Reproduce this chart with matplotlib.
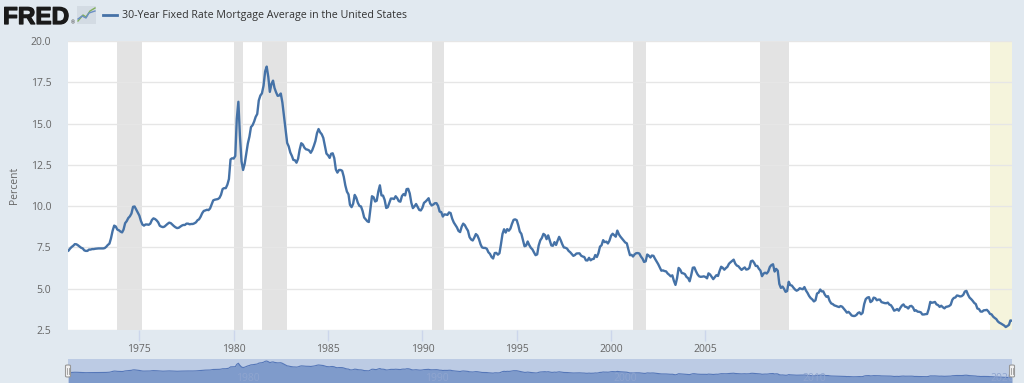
import numpy as np
import pandas as pd
import matplotlib
matplotlib.use("Agg")
import matplotlib.pyplot as plt
import matplotlib.patheffects as pe
from matplotlib.lines import Line2D
from matplotlib.patches import FancyBboxPatch

# ---------------- data ----------------
series_start = "1971-04-01"   # monthly averages from April 1971
rates_1970s = [7.31, 7.43, 7.53, 7.60, 7.70, 7.69, 7.63, 7.55, 7.48,
               7.44, 7.32, 7.29, 7.29, 7.37, 7.37, 7.40, 7.40, 7.42, 7.43, 7.44, 7.44,
               7.44, 7.44, 7.46, 7.54, 7.65, 7.73, 8.05, 8.50, 8.82, 8.77, 8.58, 8.54,
               8.46, 8.41, 8.58, 8.97, 9.09, 9.28, 9.38, 9.55, 9.96, 9.98, 9.79, 9.62,
               9.43, 9.10, 8.89, 8.82, 8.89, 8.89, 8.87, 8.94, 9.16, 9.26, 9.22, 9.14,
               9.02, 8.81, 8.76, 8.73, 8.76, 8.85, 8.93, 9.00, 8.97, 8.88, 8.79, 8.72,
               8.67, 8.69, 8.75, 8.82, 8.86, 8.86, 8.94, 8.94, 8.90, 8.92, 8.92, 8.96,
               9.02, 9.15, 9.20, 9.36, 9.57, 9.71, 9.74, 9.78, 9.76, 9.86, 10.11, 10.35,
               10.39, 10.41, 10.43, 10.50, 10.69, 11.04, 11.09, 11.09, 11.30, 11.64, 12.83, 12.90]
rates_1980s = [12.88, 13.04, 15.28, 16.32, 14.26, 12.71, 12.19, 12.56, 13.20, 13.79, 14.21, 14.79,
               14.90, 15.13, 15.40, 15.58, 16.40, 16.70, 16.83, 17.29, 18.16, 18.45, 17.83, 16.92,
               17.40, 17.60, 17.16, 16.89, 16.68, 16.70, 16.82, 16.27, 15.43, 14.61, 13.83, 13.62,
               13.25, 13.04, 12.80, 12.78, 12.63, 12.87, 13.42, 13.81, 13.73, 13.54, 13.44, 13.42,
               13.37, 13.23, 13.39, 13.65, 13.94, 14.42, 14.67, 14.47, 14.35, 14.13, 13.64, 13.18,
               13.08, 12.92, 13.17, 13.20, 12.91, 12.22, 12.03, 12.19, 12.19, 12.14, 11.78, 11.26,
               10.88, 10.71, 10.08, 9.94, 10.14, 10.68, 10.51, 10.20, 10.01, 9.98, 9.70, 9.31,
               9.20, 9.08, 9.04, 9.83, 10.60, 10.54, 10.28, 10.33, 10.89, 11.26, 10.65, 10.64,
               10.38, 9.89, 9.93, 10.20, 10.46, 10.46, 10.43, 10.60, 10.48, 10.30, 10.27, 10.61,
               10.73, 10.65, 11.03, 11.05, 10.77, 10.20, 9.88, 9.99, 10.13, 9.95, 9.77, 9.74]
rates_1990s = [9.90, 10.20, 10.27, 10.37, 10.48, 10.16, 10.04, 10.10, 10.18, 10.18, 10.01, 9.67,
               9.64, 9.37, 9.50, 9.49, 9.47, 9.62, 9.58, 9.24, 9.01, 8.86, 8.71, 8.50,
               8.43, 8.76, 8.94, 8.85, 8.67, 8.51, 8.13, 7.98, 7.92, 8.09, 8.31, 8.22,
               7.99, 7.68, 7.50, 7.47, 7.47, 7.42, 7.21, 7.11, 6.92, 6.83, 7.16, 7.17,
               7.06, 7.15, 7.68, 8.32, 8.60, 8.40, 8.61, 8.51, 8.64, 8.93, 9.17, 9.20,
               9.15, 8.83, 8.46, 8.32, 7.96, 7.57, 7.61, 7.86, 7.64, 7.48, 7.38, 7.20,
               7.03, 7.08, 7.62, 7.93, 8.07, 8.32, 8.25, 8.00, 8.23, 7.92, 7.62, 7.60,
               7.82, 7.65, 7.90, 8.14, 7.94, 7.69, 7.50, 7.48, 7.43, 7.29, 7.21, 7.10,
               6.99, 7.04, 7.13, 7.14, 7.14, 7.00, 6.95, 6.92, 6.72, 6.71, 6.87, 6.72,
               6.79, 6.81, 7.04, 6.92, 7.15, 7.55, 7.63, 7.94, 7.82, 7.85, 7.74, 7.91]
rates_2000s = [8.21, 8.33, 8.24, 8.15, 8.52, 8.29, 8.15, 8.03, 7.91, 7.80, 7.75, 7.38,
               7.03, 7.05, 6.95, 7.08, 7.15, 7.16, 7.13, 6.95, 6.82, 6.62, 6.66, 7.07,
               7.00, 6.89, 7.01, 6.99, 6.81, 6.65, 6.49, 6.29, 6.09, 6.11, 6.07, 6.05,
               5.92, 5.84, 5.75, 5.81, 5.48, 5.23, 5.63, 6.26, 6.15, 5.95, 5.93, 5.88,
               5.71, 5.64, 5.45, 5.83, 6.27, 6.29, 6.06, 5.87, 5.75, 5.72, 5.73, 5.75,
               5.71, 5.63, 5.93, 5.86, 5.72, 5.58, 5.70, 5.82, 5.77, 6.07, 6.33, 6.27,
               6.15, 6.25, 6.32, 6.51, 6.60, 6.68, 6.76, 6.52, 6.40, 6.36, 6.24, 6.14,
               6.22, 6.29, 6.16, 6.18, 6.26, 6.66, 6.70, 6.57, 6.38, 6.38, 6.21, 6.10,
               5.76, 5.92, 5.97, 5.92, 6.04, 6.32, 6.43, 6.48, 6.04, 6.20, 6.09, 5.29,
               5.05, 5.13, 5.00, 4.81, 4.86, 5.42, 5.22, 5.19, 5.06, 4.95, 4.88, 4.93]
rates_2010s = [5.03, 4.99, 4.97, 5.10, 4.89, 4.74, 4.56, 4.43, 4.35, 4.23, 4.30, 4.71,
               4.76, 4.95, 4.84, 4.84, 4.64, 4.51, 4.55, 4.27, 4.11, 4.07, 3.99, 3.96,
               3.92, 3.89, 3.95, 3.91, 3.80, 3.68, 3.55, 3.60, 3.50, 3.38, 3.35, 3.35,
               3.41, 3.53, 3.57, 3.45, 3.54, 4.07, 4.37, 4.46, 4.49, 4.19, 4.26, 4.46,
               4.43, 4.30, 4.34, 4.34, 4.19, 4.16, 4.13, 4.12, 4.16, 4.04, 4.00, 3.86,
               3.67, 3.71, 3.77, 3.67, 3.84, 3.98, 4.05, 3.91, 3.89, 3.80, 3.94, 3.96,
               3.87, 3.66, 3.69, 3.61, 3.60, 3.57, 3.44, 3.44, 3.46, 3.47, 3.77, 4.20,
               4.15, 4.17, 4.20, 4.05, 4.01, 3.90, 3.97, 3.88, 3.81, 3.90, 3.92, 3.95,
               4.03, 4.33, 4.44, 4.47, 4.59, 4.57, 4.53, 4.55, 4.63, 4.83, 4.87, 4.64,
               4.46, 4.37, 4.27, 4.14, 4.07, 3.80, 3.77, 3.62, 3.61, 3.69, 3.70, 3.72]
rates_2020s = [3.62, 3.47, 3.45, 3.31, 3.23, 3.16, 3.02, 2.94, 2.89, 2.83, 2.77, 2.68,
               2.74, 2.81, 3.08, 3.06]

recessions = [("1973-11-01", "1975-03-01"), ("1980-01-01", "1980-07-01"),
              ("1981-07-01", "1982-11-01"), ("1990-07-01", "1991-03-01"),
              ("2001-03-01", "2001-11-01"), ("2007-12-01", "2009-06-01")]
highlight_span = ("2020-02-01", "2021-05-01")
x_limits = ("1971-03-22", "2021-04-01")
y_ticks = [2.5, 5.0, 7.5, 10.0, 12.5, 15.0, 17.5, 20.0]
x_tick_years = [1975, 1980, 1985, 1990, 1995, 2000, 2005]
nav_label_years = [1980, 1990, 2000, 2010, 2020]
series_name = "30-Year Fixed Rate Mortgage Average in the United States"
y_label = "Percent"

rates = np.array(rates_1970s + rates_1980s + rates_1990s + rates_2000s + rates_2010s + rates_2020s)
dates = pd.date_range(series_start, periods=len(rates), freq="MS")

# ---------------- styling ----------------
plt.rcParams["font.family"] = ["Open Sans", "DejaVu Sans"]
BG = "#e1e9f0"
LINE = "#4572a7"
TXT = "#666666"

W, H = 1024, 383
fig = plt.figure(figsize=(W / 100, H / 100), dpi=100, facecolor=BG)

def fx(px):
    return px / W

def fy(py):
    return 1 - py / H

ax = fig.add_axes([fx(68), fy(330), fx(1012) - fx(68), fy(41) - fy(330)])
ax.set_facecolor("white")
for s in ax.spines.values():
    s.set_visible(False)

for a, b in recessions:
    ax.axvspan(pd.Timestamp(a), pd.Timestamp(b), color="#e3e3e3", lw=0, zorder=1)
ax.axvspan(pd.Timestamp(highlight_span[0]), pd.Timestamp(highlight_span[1]),
           color="#f5f4dc", lw=0, zorder=1)

ax.plot(dates, rates, color=LINE, lw=1.7, zorder=3, solid_joinstyle="round")

ax.set_ylim(2.5, 20.0)
ax.set_yticks(y_ticks)
ax.set_yticklabels([f"{v:.1f}" for v in y_ticks])
ax.set_xlim(pd.Timestamp(x_limits[0]), pd.Timestamp(x_limits[1]))
ax.set_xticks([pd.Timestamp(f"{y}-01-01") for y in x_tick_years])
ax.set_xticklabels([str(y) for y in x_tick_years])
ax.grid(axis="y", color="#e6e6e6", lw=1, zorder=0)
ax.tick_params(axis="y", length=0, pad=12, labelsize=7.5, labelcolor=TXT)
ax.tick_params(axis="x", length=8, width=1, color="#ccd6eb", pad=2,
               labelsize=7.5, labelcolor=TXT)

fig.text(fx(14), fy(185), y_label, rotation=90, ha="center", va="center",
         fontsize=7.5, color=TXT)

# ---------------- header ----------------
fig.text(fx(3), fy(24), "FRED", fontsize=17.5, fontweight="bold",
         family=["Liberation Sans", "DejaVu Sans"], color="#1a1a1a", va="baseline",
         path_effects=[pe.withStroke(linewidth=0.9, foreground="#1a1a1a")])
fig.text(fx(71), fy(24), "®", fontsize=3.5, color="#333333", va="baseline")
# small chart icon
fig.patches.append(FancyBboxPatch((fx(77), fy(24)), fx(19), fy(6) - fy(24),
                                  boxstyle="square,pad=0", transform=fig.transFigure,
                                  facecolor="#d3dbe3", edgecolor="none"))
fig.lines.append(Line2D([fx(78), fx(83), fx(86), fx(90), fx(95)],
                        [fy(21), fy(15), fy(17), fy(11), fy(8)],
                        transform=fig.transFigure, color="#7fae5a", lw=1))
fig.lines.append(Line2D([fx(78), fx(82), fx(86), fx(89), fx(95)],
                        [fy(19), fy(16), fy(18), fy(13), fy(11)],
                        transform=fig.transFigure, color="#6a8fc4", lw=1))
fig.lines.append(Line2D([fx(103), fx(117)], [fy(15), fy(15)],
                        transform=fig.transFigure, color=LINE, lw=2))
fig.text(fx(122), fy(15.5), series_name, fontsize=7.65, color="#333333", va="center")

# ---------------- navigator ----------------
nav = fig.add_axes([fx(68), 0, fx(1012) - fx(68), fy(359)])
nav.set_facecolor("#bccbe4")
for s in nav.spines.values():
    s.set_visible(False)
nav.fill_between(dates, rates, -5, color="#7f9bcb", lw=0, zorder=2)
nav.plot(dates, rates, color="#5577b8", lw=0.8, zorder=3)
nav.set_xlim(pd.Timestamp(x_limits[0]), pd.Timestamp(x_limits[1]))
nav.set_ylim(-2.6, 20.4)
nav.set_xticks([])
nav.set_yticks([])
for yr in nav_label_years:
    nav.text(pd.Timestamp(f"{yr}-02-15"), 2.0, str(yr), fontsize=7.5,
             color="#8fa5cf", va="center", ha="left", zorder=4, clip_on=True)

for hx in (68, 1012):
    fig.patches.append(FancyBboxPatch((fx(hx - 2.5), fy(377)), fx(5), fy(365) - fy(377),
                                      boxstyle="round,pad=0,rounding_size=0.002",
                                      transform=fig.transFigure, facecolor="#f2f2f2",
                                      edgecolor="#999999", lw=0.8, zorder=5))
    for dx in (-0.8, 0.8):
        fig.lines.append(Line2D([fx(hx + dx), fx(hx + dx)], [fy(368), fy(374)],
                                transform=fig.transFigure, color="#999999", lw=0.6, zorder=6))

fig.savefig("out.png", dpi=100, facecolor=BG)
